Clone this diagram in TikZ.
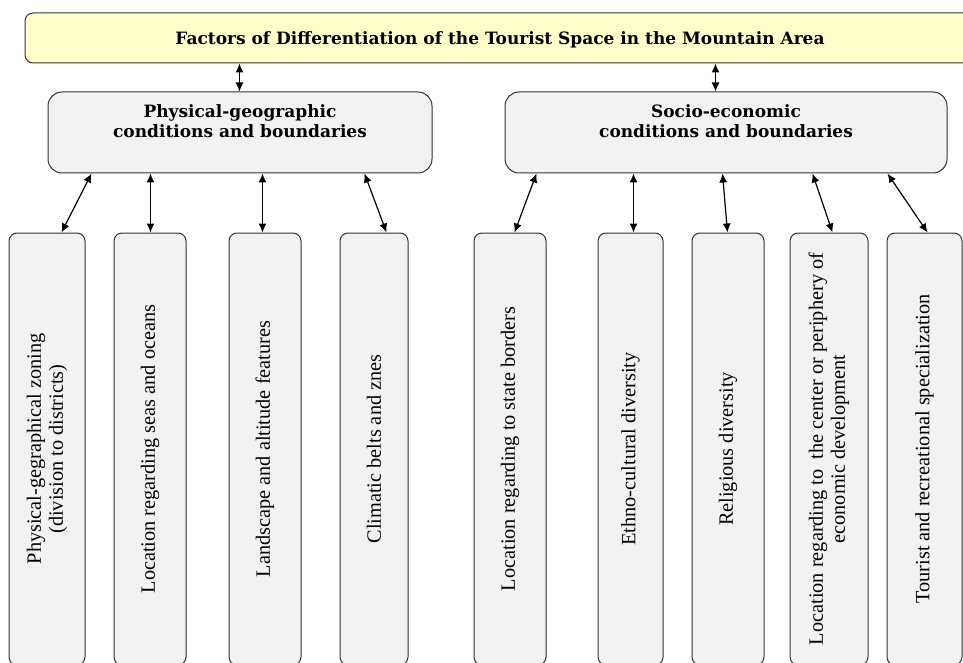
\documentclass[tikz,border=0pt]{standalone}
\usepackage{fontspec}
\setmainfont{Liberation Serif}
\newfontfamily\headfont{DejaVu Serif}
\usetikzlibrary{arrows.meta}
\definecolor{titlefill}{HTML}{FFFFCC}
\definecolor{boxfill}{HTML}{F2F2F2}
\begin{document}
\begin{tikzpicture}[x=1pt,y=-1pt,
  base/.style={draw=black!80, line width=1pt},
  titlebox/.style={base, fill=titlefill, rounded corners=8pt, minimum width=950pt, minimum height=50pt, inner sep=0pt, text depth=0pt},
  titletext/.style={font=\headfont\bfseries\fontsize{17}{20}\selectfont},
  headbox/.style={base, fill=boxfill, rounded corners=14pt, minimum height=81pt, inner sep=0pt},
  headtext/.style={font=\headfont\bfseries\fontsize{17}{20}\selectfont, align=center, anchor=north, inner sep=0pt, yshift=-13pt},
  leafbox/.style={base, fill=boxfill, rounded corners=8pt, minimum height=432pt, inner sep=0pt},
  leaftext/.style={font=\fontsize{20.3}{22}\selectfont, align=center, rotate=90, inner sep=0pt},
  arr/.style={line width=1.2pt, {Latex[length=9pt,width=8pt]}-{Latex[length=9pt,width=8pt]}}
]
\useasboundingbox (0,0) rectangle (963,663);

\node[titlebox] (title) at (500,38) {};
\node[titletext] (titlelbl) at ([yshift=-1.5pt]title.center) {Factors of Differentiation of the Tourist Space in the Mountain Area};

\node[headbox, minimum width=384pt] (phys) at (240,132.5) {};
\node[headtext] (physlbl) at (phys.north) {Physical-geographic\\conditions and boundaries};
\node[headbox, minimum width=442pt] (socio) at (726,132.5) {};
\node[headtext] (sociolbl) at (socio.north) {Socio-economic\\conditions and boundaries};

\node[leafbox, minimum width=76pt] (b1) at (47,449) {};
\node[leaftext] (t1) at (b1.center) {Physical-gegraphical zoning\\(division to districts)};
\node[leafbox, minimum width=72pt] (b2) at (150,449) {};
\node[leaftext] (t2) at (b2.center) {Location regarding seas and oceans};
\node[leafbox, minimum width=72pt] (b3) at (265,449) {};
\node[leaftext] (t3) at (b3.center) {Landscape and altitude features};
\node[leafbox, minimum width=68pt] (b4) at (374,449) {};
\node[leaftext] (t4) at (b4.center) {Climatic belts and znes};
\node[leafbox, minimum width=72pt] (b5) at (510,449) {};
\node[leaftext] (t5) at (b5.center) {Location regarding to state borders};
\node[leafbox, minimum width=65pt] (b6) at (630.5,449) {};
\node[leaftext] (t6) at (b6.center) {Ethno-cultural diversity};
\node[leafbox, minimum width=72pt] (b7) at (728,449) {};
\node[leaftext] (t7) at (b7.center) {Religious diversity};
\node[leafbox, minimum width=78pt] (b8) at (829,449) {};
\node[leaftext] (t8) at (b8.center) {Location regarding to~ the center or periphery of\\economic development};
\node[leafbox, minimum width=75pt] (b9) at (924.5,449) {};
\node[leaftext] (t9) at (b9.center) {Tourist and recreational specialization};

\draw[arr] ([xshift=215pt]title.south west) -- ([xshift=192pt]phys.north west);
\draw[arr] ([xshift=691pt]title.south west) -- ([xshift=211pt]socio.north west);

\draw[arr] ([xshift=44pt]phys.south west) -- ([xshift=53pt]b1.north west);
\draw[arr] ([xshift=103pt]phys.south west) -- ([xshift=37pt]b2.north west);
\draw[arr] ([xshift=215pt]phys.south west) -- ([xshift=34pt]b3.north west);
\draw[arr] ([xshift=317pt]phys.south west) -- ([xshift=47pt]b4.north west);

\draw[arr] ([xshift=32pt]socio.south west) -- ([xshift=41pt]b5.north west);
\draw[arr] ([xshift=129pt]socio.south west) -- ([xshift=36pt]b6.north west);
\draw[arr] ([xshift=218pt]socio.south west) -- ([xshift=36pt]b7.north west);
\draw[arr] ([xshift=308pt]socio.south west) -- ([xshift=43pt]b8.north west);
\draw[arr] ([xshift=383pt]socio.south west) -- ([xshift=41pt]b9.north west);
\end{tikzpicture}
\end{document}
